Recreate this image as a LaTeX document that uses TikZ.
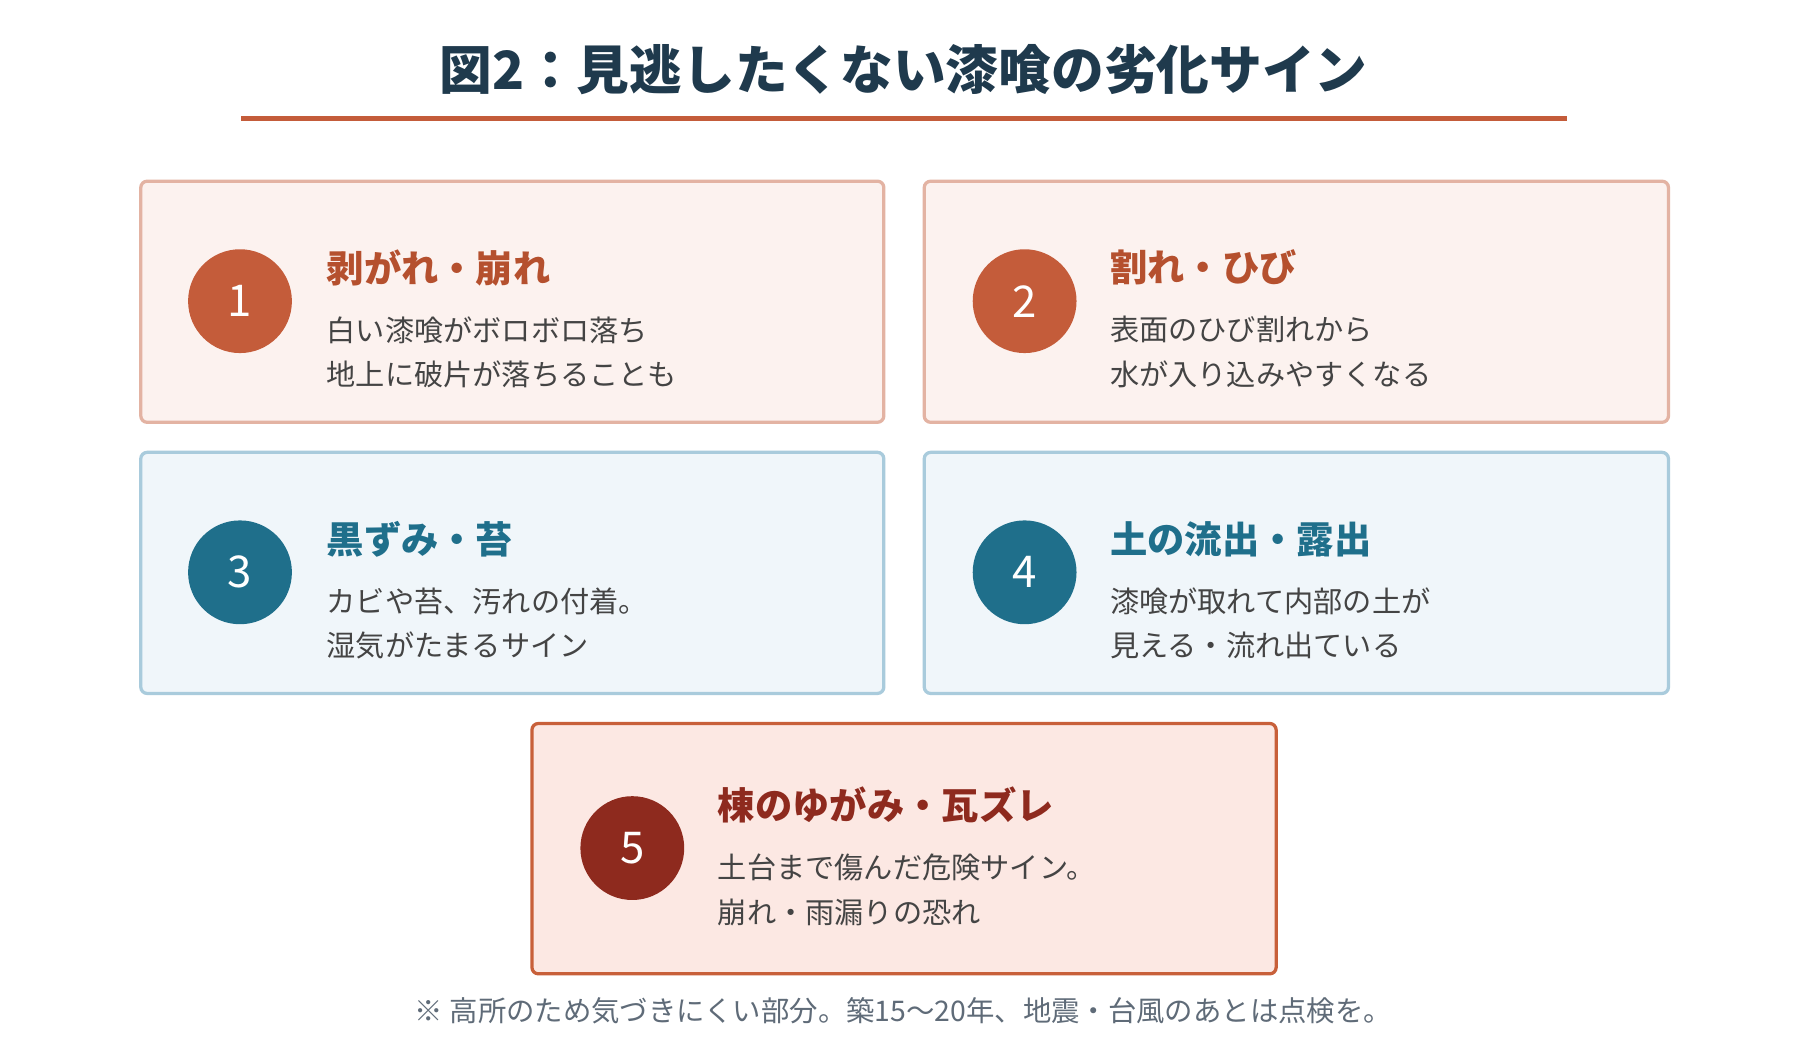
\documentclass[tikz,border=0pt]{standalone}
\usepackage{fontspec}
\setmainfont{Noto Sans CJK JP}
\usetikzlibrary{positioning}
\definecolor{ink}{HTML}{1F3A4D}
\definecolor{rust}{HTML}{C45C3A}
\definecolor{rusttxt}{HTML}{B5502E}
\definecolor{teal}{HTML}{1F6F8B}
\definecolor{wine}{HTML}{8E2A1E}
\definecolor{warmfill}{HTML}{FCF2EF}
\definecolor{warmline}{HTML}{E3B3A3}
\definecolor{coolfill}{HTML}{F0F6FA}
\definecolor{coolline}{HTML}{A9CBDC}
\definecolor{redfill}{HTML}{FCE8E3}
\definecolor{redline}{HTML}{C8603A}
\definecolor{bodytxt}{HTML}{444444}
\definecolor{notetxt}{HTML}{5F6B78}
\tikzset{
  card/.style={rounded corners=8pt, line width=4pt},
  badge/.style={circle, minimum size=128pt, inner sep=0pt, text=white, font=\fontsize{54}{60}\selectfont},
  head/.style={anchor=west, inner sep=0pt, font=\fontsize{46}{52}\selectfont\bfseries},
  desc/.style={anchor=north west, align=left, inner sep=0pt, text=bodytxt,
    font=\fontsize{36}{55}\selectfont}
}
\begin{document}
\begin{tikzpicture}[x=0.05cm, y=-0.05cm]
    \useasboundingbox[fill=white] (0,0) rectangle (1560,901);
    % Title
    \node[text=ink, font=\fontsize{65}{70}\selectfont\bfseries] (title) at (783,60) {図2：見逃したくない漆喰の劣化サイン};
    \draw[rust, line width=6pt] (209,103) -- (1358,103);

    % Cards
    \draw[card, warmline, fill=warmfill] (122,157) rectangle (766,366);
    \draw[card, warmline, fill=warmfill] (801,157) rectangle (1446,366);
    \draw[card, coolline, fill=coolfill] (122,392) rectangle (766,601);
    \draw[card, coolline, fill=coolfill] (801,392) rectangle (1446,601);
    \draw[card, redline, fill=redfill] (461,627) rectangle (1106,844);

    % 1
    \node[badge, fill=rust] (n1) at (208,261) {1};
    \node[head, text=rusttxt] (h1) at (283,232) {剥がれ・崩れ};
    \node[desc] (d1) at (283,274) {白い漆喰がボロボロ落ち\\地上に破片が落ちることも};
    % 2
    \node[badge, fill=rust] (n2) at (888,261) {2};
    \node[head, text=rusttxt] (h2) at (962,232) {割れ・ひび};
    \node[desc] (d2) at (962,274) {表面のひび割れから\\水が入り込みやすくなる};
    % 3
    \node[badge, fill=teal] (n3) at (208,496) {3};
    \node[head, text=teal] (h3) at (283,467) {黒ずみ・苔};
    \node[desc] (d3) at (283,509) {カビや苔、汚れの付着。\\湿気がたまるサイン};
    % 4
    \node[badge, fill=teal] (n4) at (888,496) {4};
    \node[head, text=teal] (h4) at (962,467) {土の流出・露出};
    \node[desc] (d4) at (962,509) {漆喰が取れて内部の土が\\見える・流れ出ている};
    % 5
    \node[badge, fill=wine] (n5) at (548,735) {5};
    \node[head, text=wine] (h5) at (622,698) {棟のゆがみ・瓦ズレ};
    \node[desc] (d5) at (622,740) {土台まで傷んだ危険サイン。\\崩れ・雨漏りの恐れ};

    % Note
    \node[text=notetxt, font=\fontsize{35}{40}\selectfont] (note) at (783,876) {※ 高所のため気づきにくい部分。築15〜20年、地震・台風のあとは点検を。};
\end{tikzpicture}
\end{document}
